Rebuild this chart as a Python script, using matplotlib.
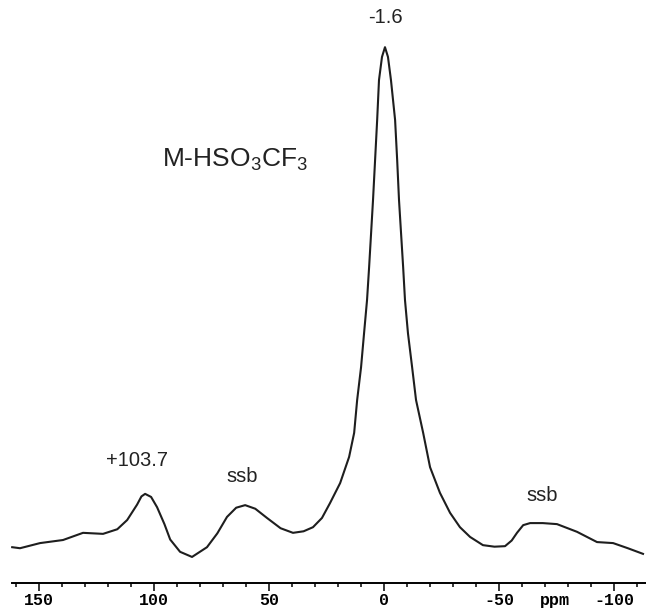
import matplotlib
matplotlib.use("Agg")
import matplotlib.pyplot as plt
from matplotlib.ticker import MultipleLocator, FixedLocator

# spectrum: chemical shift (ppm) and intensity (a.u., main peak = 100)
ppm = [161.7, 158.3, 149.6, 139.6, 130.9, 122.2, 116.0, 111.7, 107.4, 105.5, 103.9,
       101.3, 98.7, 95.5, 93.0, 88.7, 83.5, 77.0, 72.5, 68.3, 64.3, 60.4, 56.0,
       50.9, 45.0, 39.6, 35.0, 30.9, 27.0, 23.5, 19.1, 15.2, 13.0, 11.7, 10.0,
       8.7, 7.4, 6.5, 4.8, 3.9, 3.0, 2.2, 0.9, -0.4, -1.7, -3.0, -4.8, -5.7,
       -6.5, -8.3, -9.1, -10.4, -12.2, -13.9, -17.0, -20.0, -24.3, -28.7, -33.0,
       -37.4, -43.0, -48.0, -52.6, -55.5, -57.8, -60.5, -63.5, -69.0,
       -75.2, -83.9, -92.6, -99.6, -106.0, -112.6]
intensity = [2.5, 2.3, 3.3, 3.9, 5.3, 5.1, 6.0, 7.8, 10.8, 12.4, 12.9,
             12.3, 10.3, 7.0, 4.0, 1.6, 0.6, 2.5, 5.2, 8.4, 10.2, 10.7, 10.0,
             8.2, 6.2, 5.3, 5.6, 6.4, 8.2, 11.1, 15.0, 20.1, 24.8, 31.2, 37.6,
             44.2, 50.7, 57.1, 70.2, 78.0, 85.8, 93.6, 98.1, 100.0, 98.1, 93.6, 85.8, 78.0,
             70.2, 57.1, 50.7, 44.2, 37.6, 31.2, 24.8, 18.1, 13.1, 9.2, 6.4,
             4.5, 2.9, 2.6, 2.7, 3.8, 5.3, 6.8, 7.2, 7.2,
             7.0, 5.5, 3.5, 3.3, 2.3, 1.2]

major_ticks = [150, 100, 50, 0, -50, -100]
tick_labels = ["150", "100", "50", "0", "-50", "-100"]

peak_labels = [(-0.4, 105.7, "-1.6"), (107.4, 19.5, "+103.7"),
               (61.7, 16.2, "ssb"), (-68.7, 12.5, "ssb")]

fig = plt.figure(figsize=(6.46, 6.14), dpi=100)
ax = fig.add_axes([0.0, 0.0505, 1.0, 0.9495])

ax.plot(ppm, intensity, color="#1e1e1e", lw=1.5)

ax.set_xlim(167.0, -113.9)
ax.set_ylim(-4.48, 109.2)

for side in ("top", "left", "right"):
    ax.spines[side].set_visible(False)
ax.spines["bottom"].set_linewidth(1.4)
ax.spines["bottom"].set_bounds(161.7, -113.9)
ax.yaxis.set_visible(False)

ax.xaxis.set_major_locator(FixedLocator(major_ticks))
ax.set_xticklabels(tick_labels, family="Liberation Mono", weight="bold", fontsize=12)
ax.xaxis.set_minor_locator(MultipleLocator(10))
ax.tick_params(axis="x", which="major", direction="out", length=6, width=1.1, pad=1)
ax.tick_params(axis="x", which="minor", direction="out", length=3, width=1.1)

# unit label sits between the -50 and -100 ticks, level with the tick labels
ax.text(-74.3, -0.0165, "ppm", transform=ax.get_xaxis_transform(), ha="center", va="top",
        family="Liberation Mono", weight="bold", fontsize=12)

for x, y, s in peak_labels:
    ax.text(x, y, s, ha="center", va="center", family="Liberation Sans", fontsize=14.5,
            color="#222222")

plt.rcParams["mathtext.default"] = "regular"
ax.text(96.5, 78, r"M-HSO$_3$CF$_3$", ha="left", va="center", family="Liberation Sans",
        fontsize=19, color="#222222")

fig.savefig("out.png", dpi=100)
